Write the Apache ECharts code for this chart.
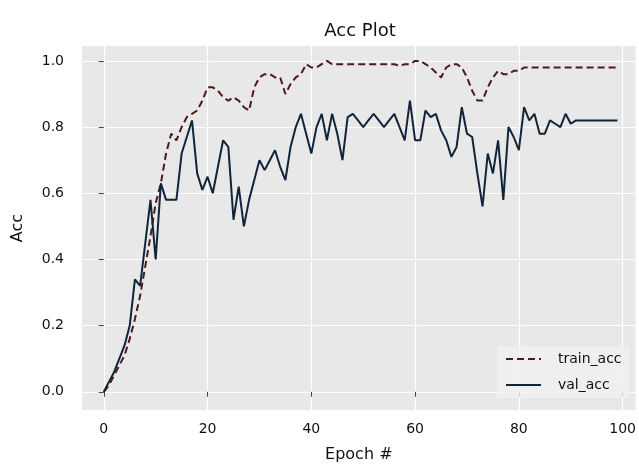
<!DOCTYPE html>
<html><head><meta charset="utf-8">
<script src="https://cdn.jsdelivr.net/npm/echarts@6/dist/echarts.min.js"></script>
<style>html,body{margin:0;padding:0;background:#fff}#c{width:639px;height:468px}</style>
</head><body><div id="c"></div>
<script>
const xTicks = [0, 20, 40, 60, 80, 100];
const yTicks = [0.0, 0.2, 0.4, 0.6, 0.8, 1.0];
const trainAcc = [
  0.00,0.02,0.05,0.08,0.11,0.16,0.22,0.29,0.38,0.47,
  0.57,0.63,0.72,0.78,0.76,0.80,0.83,0.84,0.85,0.88,
  0.92,0.92,0.91,0.89,0.88,0.89,0.88,0.86,0.85,0.92,
  0.95,0.96,0.96,0.95,0.95,0.90,0.93,0.95,0.96,0.99,
  0.98,0.98,0.99,1.00,0.99,0.99,0.99,0.99,0.99,0.99,
  0.99,0.99,0.99,0.99,0.99,0.99,0.99,0.985,0.99,0.99,
  1.00,1.00,0.99,0.98,0.965,0.95,0.98,0.99,0.99,0.98,
  0.95,0.91,0.88,0.88,0.92,0.95,0.97,0.96,0.96,0.97,
  0.97,0.98,0.98,0.98,0.98,0.98,0.98,0.98,0.98,0.98,
  0.98,0.98,0.98,0.98,0.98,0.98,0.98,0.98,0.98,0.98
];
const valAcc = [
  0.00,0.03,0.06,0.10,0.14,0.20,0.34,0.32,0.45,0.58,
  0.40,0.63,0.58,0.58,0.58,0.72,0.77,0.82,0.66,0.61,
  0.65,0.60,0.68,0.76,0.74,0.52,0.62,0.50,0.58,0.64,
  0.70,0.67,0.70,0.73,0.68,0.64,0.74,0.80,0.84,0.78,
  0.72,0.80,0.84,0.76,0.84,0.78,0.70,0.83,0.84,0.82,
  0.80,0.82,0.84,0.82,0.80,0.82,0.84,0.80,0.76,0.88,
  0.76,0.76,0.85,0.83,0.84,0.79,0.76,0.71,0.74,0.86,
  0.78,0.77,0.66,0.56,0.72,0.66,0.76,0.58,0.80,0.77,
  0.73,0.86,0.82,0.84,0.78,0.78,0.82,0.81,0.80,0.84,
  0.81,0.82,0.82,0.82,0.82,0.82,0.82,0.82,0.82,0.82
];
const seriesNames = ['train_acc', 'val_acc'];

const toPairs = arr => arr.map((v, i) => [i, v]);
const font = 'DejaVu Sans';
const chart = echarts.init(document.getElementById('c'), null, {renderer: 'canvas'});
chart.setOption({
  animation: false,
  backgroundColor: '#ffffff',
  title: {
    text: 'Acc Plot', left: 355, top: 17, textAlign: 'center',
    textStyle: {fontFamily: font, fontSize: 18, fontWeight: 'normal', color: '#111'}
  },
  grid: {left: 82, right: 0, top: 46, bottom: 55, show: true, backgroundColor: '#e8e8e8', borderWidth: 0},
  legend: {
    data: seriesNames, orient: 'vertical', left: 497, top: 346,
    itemWidth: 35, itemHeight: 14, itemGap: 12,
    padding: [6, 8, 6, 8],
    backgroundColor: 'rgba(240,240,240,0.85)',
    itemStyle: {opacity: 0},
    textStyle: {fontFamily: font, fontSize: 14, color: '#111', padding: [0, 0, 0, 12]}
  },
  xAxis: {
    type: 'value', min: -4.2, max: 102.5,
    name: 'Epoch #', nameLocation: 'middle', nameGap: 37,
    nameTextStyle: {fontFamily: font, fontSize: 16, color: '#111'},
    axisLine: {show: false},
    axisTick: {show: true, length: 5, customValues: xTicks, lineStyle: {color: '#444'}},
    axisLabel: {customValues: xTicks, margin: 12, fontFamily: font, fontSize: 14, color: '#111'},
    splitLine: {show: true, customValues: xTicks, lineStyle: {color: '#ffffff', width: 1.2}}
  },
  yAxis: {
    type: 'value', min: -0.055, max: 1.045,
    name: 'Acc', nameLocation: 'middle', nameGap: 56,
    nameTextStyle: {fontFamily: font, fontSize: 16, color: '#111'},
    axisLine: {show: false},
    axisTick: {show: true, length: 5, customValues: yTicks, lineStyle: {color: '#444'}},
    axisLabel: {customValues: yTicks, margin: 18, fontFamily: font, fontSize: 14, color: '#111',
      formatter: v => v.toFixed(1)},
    splitLine: {show: true, customValues: yTicks, lineStyle: {color: '#ffffff', width: 1.2}}
  },
  series: [
    {name: seriesNames[0], type: 'line', data: toPairs(trainAcc), showSymbol: false, symbol: 'none',
     lineStyle: {color: '#4e1a1a', width: 2, type: [7, 4]}, itemStyle: {color: '#4e1a1a'}},
    {name: seriesNames[1], type: 'line', data: toPairs(valAcc), showSymbol: false, symbol: 'none',
     lineStyle: {color: '#10243a', width: 2}, itemStyle: {color: '#10243a'}}
  ]
});
</script>
</body></html>
